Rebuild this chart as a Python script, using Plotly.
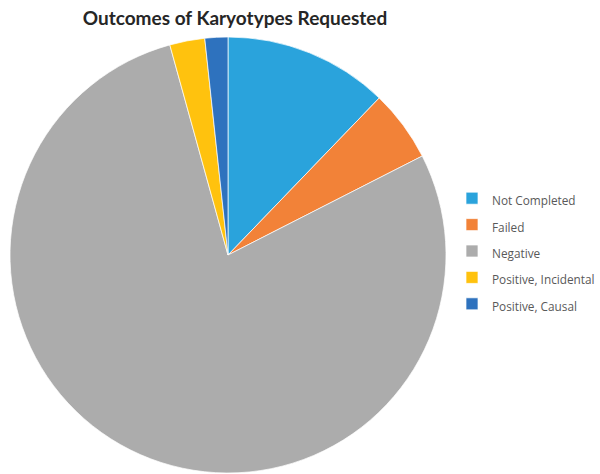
import plotly.graph_objects as go

labels = ["Not Completed", "Failed", "Negative", "Positive, Incidental", "Positive, Causal"]
values = [12.2, 5.3, 78.2, 2.6, 1.7]
colors = ["#2AA3DC", "#F28238", "#ACACAC", "#FFC20E", "#2E72BE"]

legend_labels = ["<span style='font-size:11.8px'>%s</span>" % s for s in labels]

fig = go.Figure(go.Pie(
    labels=legend_labels,
    values=values,
    sort=False,
    direction="clockwise",
    rotation=0,
    textinfo="none",
    hovertemplate="%{value}%<extra></extra>",
    marker=dict(colors=colors, line=dict(color="white", width=0.7)),
    domain=dict(x=[10/600, 446/600], y=[1 - 473/474, 1 - 37/474]),
))

fig.update_layout(
    width=600, height=474,
    margin=dict(l=0, r=0, t=0, b=0),
    paper_bgcolor="white",
    title=dict(text="<b>Outcomes of Karyotypes Requested</b>", x=235/600, xanchor="center",
               y=1 - 18/474, yanchor="middle",
               font=dict(family="Lato", size=19, color="#262626")),
    legend=dict(x=452/600, xanchor="left", y=1 - 180/474, yanchor="top",
                font=dict(family="Open Sans", size=18, color="#595959"),
                itemwidth=30),
)

fig.write_html("out.html", config={"displayModeBar": False},
               post_script="document.body.style.margin='0';")
